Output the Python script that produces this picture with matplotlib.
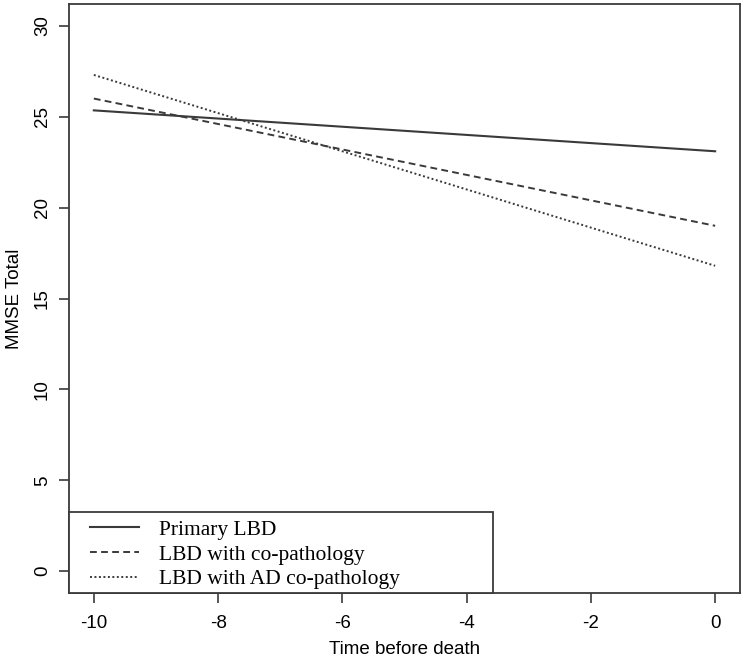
import matplotlib
matplotlib.use("Agg")
import matplotlib.pyplot as plt
from matplotlib.patches import Rectangle

# time before death (years) and fitted MMSE values at the ends of each line
time = [-10, 0]
primary_lbd = [25.35, 23.1]
lbd_copath = [26.0, 19.0]
lbd_ad_copath = [27.3, 16.8]

labels = ["Primary LBD", "LBD with co-pathology", "LBD with AD co-pathology"]
x_ticks = [-10, -8, -6, -4, -2, 0]
y_ticks = [0, 5, 10, 15, 20, 25, 30]

col = "#3a3a3a"
fig = plt.figure(figsize=(7.45, 6.61), dpi=100)
ax = fig.add_axes([0.0926, 0.1029, 0.9007, 0.891])

ax.plot(time, primary_lbd, color=col, lw=1.5, ls="-", label=labels[0])
ax.plot(time, lbd_copath, color=col, lw=1.4, ls=(0, (3.5, 2.2)), label=labels[1])
ax.plot(time, lbd_ad_copath, color=col, lw=1.4, ls=(0, (1, 1.3)), label=labels[2])

ax.set_xlim(-10.4, 0.4)
ax.set_ylim(-1.2, 31.2)
ax.set_xticks(x_ticks)
ax.set_yticks(y_ticks)
ax.set_xticklabels([str(t) for t in x_ticks], family="Liberation Sans", fontsize=13.5)
ax.set_yticklabels([str(t) for t in y_ticks], family="Liberation Sans", fontsize=13.5,
                   rotation=90, va="center")
ax.tick_params(axis="x", length=7, width=1.2, color=col, pad=9)
ax.tick_params(axis="y", length=7, width=1.2, color=col, pad=6)
for s in ax.spines.values():
    s.set_color(col)
    s.set_linewidth(1.3)

ax.set_xlabel("Time before death", family="Liberation Sans", fontsize=13.5, labelpad=6)
ax.set_ylabel("MMSE Total", family="Liberation Sans", fontsize=13.5, labelpad=8)

# legend box drawn separately so the padding can match
ax.add_patch(Rectangle((0, 0), 0.632, 0.137, transform=ax.transAxes, facecolor="white",
                       edgecolor=col, lw=1.3, zorder=5, clip_on=False))
leg = ax.legend(loc="upper left", bbox_to_anchor=(0.031, 0.1245), borderaxespad=0,
                frameon=False, prop={"family": "Liberation Serif", "size": 15.5},
                handlelength=2.3, handletextpad=0.9, labelspacing=0.22, borderpad=0)
leg.set_zorder(6)

fig.savefig("out.png", dpi=100)
